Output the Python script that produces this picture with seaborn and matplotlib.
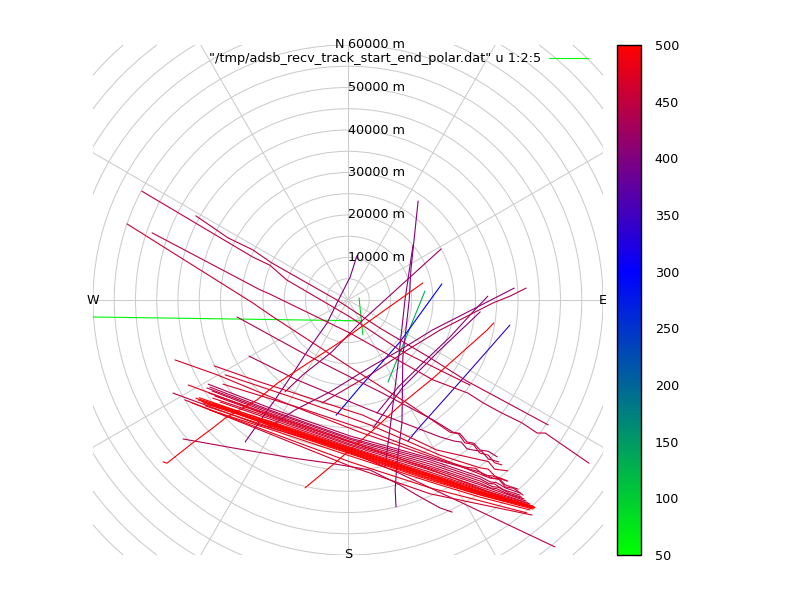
import numpy as np
import pandas as pd
import matplotlib
matplotlib.use('Agg')
import matplotlib.pyplot as plt
from matplotlib.colors import LinearSegmentedColormap, Normalize
from matplotlib.cm import ScalarMappable
from matplotlib.patches import Circle
import seaborn as sns

# track end values (colour scale) and positions in km east / north of the receiver
track_value = [60, 90, 130, 300, 340, 495, 495, 405, 405, 400, 420, 410, 440, 410, 405,
               450, 445, 460, 450, 440, 435, 470, 465, 470, 465, 480, 450, 440,
               440, 445, 450, 455, 455, 460, 465, 470,
               495, 498, 498, 495, 490, 500, 480, 465,
               500, 500, 500, 500]

track_east = [
    [-60.0, 3.3],
    [2.6, 3.5],
    [18.1, 9.4],
    [22.1, 12.2, 2.8, -2.8],
    [38.1, 27.1, 16.2, 14.1],
    [17.6, -1.9, -5.4, -16.5, -21.4, -28.9, -31.8, -36.5, -42.6, -43.5],
    [34.3, 32.7, 20.0, 12.9, 5.9, -4.2, -10.1],
    [16.5, 14.8, 14.4, 12.9, 12.7, 11.5, 11.1, 11.3],
    [15.3, 13.4, 11.8, 9.9, 8.7],
    [2.1, 0.5, -2.6, -4.9, -9.4, -12.9, -17.2, -24.2],
    [21.9, 3.5, -3.8, -10.6, -14.8],
    [39.1, 28.2, 19.8, 12.2, 5.2, -4.2, -12.5, -18.8],
    [41.9, 38.1, 34.1, 29.4, 21.6, 13.9, 5.2, -6.1],
    [32.9, 29.4, 24.0, 17.6, 11.8, 6.8],
    [31.1, 21.6, 12.9, 5.9],
    [-48.5, -22.4, -18.4, -14.4, 0.5, 12.2, 21.6, 28.7],
    [-35.8, -28.2, -22.4, -17.9, -2.6, 7.5, 19.3, 28.0, 35.8, 47.1],
    [-52.0, -22.4, -17.6, 0.5, 14.6, 24.0, 26.0, 27.5, 29.5, 31.0, 33.0, 34.5, 36.2],
    [-46.1, -20.7, -18.4, 0.5, 20.0, 28.2, 31.8, 35.8, 40.9, 44.5, 46.4, 56.7],
    [-26.1, -10.6, -1.9, 7.5, 20.0, 24.7, 26.3, 28.0, 29.6, 31.1, 33.0, 35.1],
    [-23.3, -12.0, 5.2, 21.6, 25.0, 26.6, 28.0, 29.4, 31.5, 33.0, 35.5],
    [-40.7, -30.8, -13.6, 2.8, 21.6, 28.0, 30.0, 32.0, 34.0, 37.4],
    [-31.5, -20.7, 3.5, 9.9, 20.9, 31.1, 33.0, 34.5, 37.6],
    [-28.9, -11.3, 5.2, 21.6, 31.1, 33.0, 34.5, 37.6],
    [-29.4, -11.3, 2.8, 21.6, 33.4, 35.5, 37.0, 39.0, 41.2],
    [-37.6, -18.4, 0.5, 19.3, 40.0],
    [-41.2, -20.7, -1.9, 11.5, 24.0, 48.7],
    [-38.8, -27.1, -12.9, -4.2, 5.2, 12.2, 16.2, 21.6, 24.5],
    [-32.9, -18.4, 0.5, 19.3, 31.1, 34.0, 35.5, 37.0, 40.0],
    [-32.5, -18.4, 0.5, 19.3, 31.1, 33.5, 35.0, 37.0, 40.5],
    [-33.2, -18.4, 0.5, 19.3, 31.1, 33.0, 34.5, 36.5, 40.5],
    [-32.0, -18.4, 0.5, 19.3, 31.1, 34.0, 35.5, 38.0, 40.9],
    [-32.7, -18.4, 0.5, 19.3, 31.1, 33.5, 35.0, 38.0, 41.4],
    [-31.3, -18.4, 0.5, 19.3, 31.1, 41.9],
    [-31.8, -18.4, 0.5, 19.3, 31.1, 42.4],
    [-30.1, -18.4, 0.5, 19.3, 31.1, 42.8],
    [-35.8, -18.4, 0.5, 19.3, 31.1, 43.5],
    [-35.3, -18.4, 0.5, 19.3, 31.1, 43.8],
    [-34.1, -18.4, 0.5, 19.3, 31.1, 44.0],
    [-33.6, -18.4, 0.5, 19.3, 31.1, 43.5],
    [-32.5, -18.4, 0.5, 19.3, 31.1, 42.8],
    [-31.3, -18.4, 0.5, 19.3, 31.1, 43.3],
    [-36.7, -18.4, 0.5, 19.3, 42.1],
    [-38.4, -18.4, 0.5, 19.3, 43.3],
    [-35.0, -18.4, 0.5, 19.3, 31.1, 43.6],
    [-34.5, -18.4, 0.5, 19.3, 31.1, 43.9],
    [-28.0, -18.4, 0.5, 19.3, 31.1, 43.7],
    [-33.0, -18.4, 0.5, 19.3, 31.1, 43.2],
]

track_north = [
    [-4.0, -4.9],
    [0.5, -8.2],
    [2.1, -19.3],
    [3.8, -9.9, -20.5, -27.1],
    [-5.9, -18.4, -30.6, -33.2],
    [4.0, -9.9, -12.2, -19.5, -23.5, -27.8, -30.1, -33.6, -38.4, -38.1],
    [-5.4, -7.1, -18.4, -24.2, -30.6, -39.3, -44.2],
    [23.3, 7.1, 0.0, -13.4, -28.9, -38.4, -44.7, -48.7],
    [12.9, 0.0, -14.8, -30.1, -39.3],
    [10.4, 5.4, -0.7, -5.4, -11.8, -17.2, -23.5, -33.4],
    [12.0, -4.7, -12.2, -17.6, -21.6],
    [2.8, -2.8, -7.1, -11.8, -15.8, -21.6, -25.9, -30.1],
    [2.8, 0.9, -0.7, -3.1, -7.1, -11.8, -17.6, -24.2],
    [0.9, -2.8, -8.7, -14.8, -20.5, -26.6],
    [-2.8, -11.8, -20.5, -30.1],
    [25.6, 10.1, 8.2, 4.7, -4.0, -11.8, -16.5, -20.0],
    [19.8, 14.6, 11.8, 8.7, 0.0, -6.6, -13.6, -19.1, -23.3, -29.4],
    [17.9, -0.7, -4.0, -15.8, -24.7, -31.1, -31.5, -33.6, -34.0, -36.0, -36.5, -38.3, -38.8],
    [15.8, 2.4, 1.4, -7.8, -18.8, -21.9, -24.2, -26.4, -28.9, -31.3, -31.3, -38.4],
    [-4.0, -12.5, -16.9, -21.6, -28.2, -31.1, -31.4, -33.4, -33.7, -35.3, -35.6, -36.9],
    [-13.2, -18.8, -25.9, -32.2, -33.2, -33.4, -35.0, -35.3, -35.6, -37.4, -38.1],
    [-14.1, -17.6, -24.7, -31.1, -37.6, -39.4, -39.6, -41.2, -41.4, -42.6],
    [-15.5, -19.3, -27.1, -30.1, -35.3, -37.6, -38.0, -39.8, -40.2],
    [-17.6, -23.5, -29.4, -36.5, -39.5, -39.8, -41.4, -42.6],
    [-19.8, -25.4, -30.1, -37.2, -41.9, -42.2, -44.0, -44.3, -45.9],
    [-20.0, -27.1, -33.4, -39.8, -47.8],
    [-21.9, -29.4, -34.8, -40.5, -46.4, -58.1],
    [-32.7, -34.8, -37.2, -38.4, -40.0, -43.5, -45.9, -48.9, -49.9],
    [-19.8, -25.4, -32.0, -37.2, -40.5, -41.9, -42.0, -43.5, -44.5],
    [-20.5, -25.9, -32.5, -37.6, -41.6, -42.8, -43.0, -44.2, -45.4],
    [-20.7, -26.2, -32.8, -38.1, -42.1, -43.1, -43.3, -44.6, -45.9],
    [-21.4, -26.6, -33.2, -38.6, -42.6, -43.9, -44.1, -45.5, -46.4],
    [-21.9, -26.9, -33.5, -39.1, -43.1, -44.2, -44.4, -45.8, -46.8],
    [-22.6, -27.3, -33.9, -39.5, -43.5, -47.3],
    [-23.1, -27.6, -34.2, -40.0, -44.0, -47.8],
    [-24.0, -28.0, -34.6, -40.5, -44.5, -48.0],
    [-23.1, -28.5, -34.8, -40.9, -44.7, -48.5],
    [-23.5, -28.9, -35.3, -41.4, -45.2, -48.7],
    [-24.2, -29.4, -35.8, -41.9, -45.6, -48.9],
    [-24.9, -29.9, -36.2, -42.4, -45.9, -49.2],
    [-25.9, -30.4, -36.7, -42.8, -46.4, -49.4],
    [-24.5, -29.2, -35.6, -41.6, -45.4, -48.9],
    [-24.2, -31.1, -38.1, -44.2, -50.1],
    [-23.5, -31.5, -39.1, -45.6, -50.6],
    [-23.0, -28.7, -35.0, -41.1, -45.0, -48.6],
    [-23.8, -29.1, -35.5, -41.6, -45.4, -48.8],
    [-26.0, -29.6, -36.0, -42.1, -45.8, -49.0],
    [-24.6, -29.0, -35.1, -41.2, -45.1, -48.7],
]

range_labels = [10, 20, 30, 40, 50, 60]
ring_radii = list(range(5, 90, 5))
spoke_angles = list(range(0, 360, 30))
cbar_ticks = [50, 100, 150, 200, 250, 300, 350, 400, 450, 500]
key_label = '"/tmp/adsb_recv_track_start_end_polar.dat" u 1:2:5'

sns.set_style('white')
plt.rcParams['font.family'] = ['DejaVu Sans']
plt.rcParams['text.color'] = 'black'
plt.rcParams['ytick.labelcolor'] = 'black'

cmap = LinearSegmentedColormap.from_list(
    'track', [(0.0, '#00ff00'), (250 / 450, '#0000ff'), (1.0, '#ff0000')])

rows = []
for i, (east, north) in enumerate(zip(track_east, track_north)):
    for e, n in zip(east, north):
        rows.append({'track': i, 'east': e, 'north': n, 'value': track_value[i]})
df = pd.DataFrame(rows)

fig = plt.figure(figsize=(8, 6), dpi=100)
ax = fig.add_axes([93 / 800, 45 / 600, 510 / 800, 510 / 600])
ax.set_xlim(-60, 60)
ax.set_ylim(-60, 60)
ax.set_aspect('equal')

# polar grid, clipped by the square axes
grid_color = '#cccccc'
for r in ring_radii:
    ax.add_patch(Circle((0, 0), r, fill=False, ec=grid_color, lw=0.75, zorder=1))
for a in spoke_angles:
    t = np.radians(a)
    ax.plot([0, 90 * np.cos(t)], [0, 90 * np.sin(t)], color=grid_color, lw=0.75, zorder=1)

sns.lineplot(data=df, x='east', y='north', hue='value', units='track', estimator=None,
             sort=False, palette=cmap, hue_norm=(50, 500), legend=False, linewidth=0.8,
             ax=ax, zorder=3)

for r in range_labels:
    ax.text(0, r, f'{r * 1000} m', ha='left', va='center', fontsize=9.2, zorder=5)
ax.text(-1.9, 60, 'N', ha='center', va='center', fontsize=9.2, zorder=5)
ax.text(0, -60, 'S', ha='center', va='center', fontsize=9.2, zorder=5)
ax.text(60, 0, 'E', ha='center', va='center', fontsize=9.2, zorder=5)
ax.text(-60, 0, 'W', ha='center', va='center', fontsize=9.2, zorder=5)

# key
ax.text(45.4, 56.9, key_label, ha='right', va='center', fontsize=9.3, zorder=5)
ax.plot([47.3, 56.5], [56.9, 56.9], color='#00ff00', lw=0.8, zorder=5)
ax.set_xlabel('')
ax.set_ylabel('')
ax.axis('off')

cax = fig.add_axes([617 / 800, 45 / 600, 24 / 800, 510 / 600])
sm = ScalarMappable(norm=Normalize(50, 500), cmap=cmap)
cb = fig.colorbar(sm, cax=cax, ticks=cbar_ticks)
cb.outline.set_linewidth(1)
cb.outline.set_edgecolor('black')
cax.tick_params(axis='y', left=True, right=True, direction='in', length=4, width=0.8,
                color='black', labelcolor='black', labelsize=9.2, pad=10)

fig.savefig('out.png', dpi=100)
